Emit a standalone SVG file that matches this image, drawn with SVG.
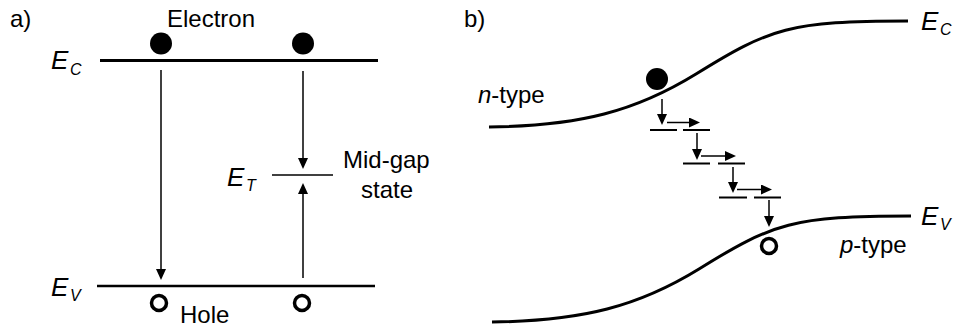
<svg xmlns="http://www.w3.org/2000/svg" width="954" height="331" viewBox="0 0 954 331">
<style>
text{font-family:"Liberation Sans",Arial,sans-serif;fill:#000}
.t{font-size:24px}
.e{font-size:26px;font-style:italic}
.s{font-size:16px;font-style:italic}
.band{stroke:#000;stroke-width:3;fill:none}
.lvl{stroke:#000;stroke-width:2;fill:none}
.arr{stroke:#000;stroke-width:1.5;fill:none;marker-end:url(#ah)}
.el{fill:#000}
.ho{fill:none;stroke:#000;stroke-width:3.5}
</style>
<defs>
<marker id="ah" viewBox="0 0 11 10" refX="6" refY="5" markerWidth="11" markerHeight="10" orient="auto" markerUnits="userSpaceOnUse">
<path d="M0,0 L11,5 L0,10 z" fill="#000"/>
</marker>
</defs>
<rect width="954" height="331" fill="#fff"/>

<!-- Panel a -->
<g id="label-a"><text class="t" x="10" y="27">a)</text></g>
<g id="a-ec">
<line class="band" x1="100" y1="60.5" x2="378" y2="60.5"/>
<text class="e" x="51" y="69">E</text><text class="s" x="70" y="75">C</text>
</g>
<g id="a-ev">
<line class="band" x1="97" y1="286" x2="375" y2="286" style="stroke-width:2.6"/>
<text class="e" x="51" y="296">E</text><text class="s" x="70" y="301">V</text>
</g>
<g id="a-et">
<line class="lvl" x1="272" y1="175" x2="333" y2="175" style="stroke-width:1.6"/>
<text class="e" x="227" y="186">E</text><text class="s" x="246" y="191">T</text>
</g>
<g id="a-electron1"><circle class="el" cx="161" cy="43.5" r="11"/></g>
<g id="a-electron2"><circle class="el" cx="303" cy="43.5" r="11"/></g>
<g id="a-electron-label"><text class="t" x="167" y="26.5">Electron</text></g>
<g id="a-hole1"><circle class="ho" cx="159" cy="303" r="7.5"/></g>
<g id="a-hole2"><circle class="ho" cx="302" cy="303" r="7.5"/></g>
<g id="a-hole-label"><text class="t" x="180" y="323">Hole</text></g>
<g id="a-midgap-label"><text class="t" x="343" y="168">Mid-gap</text><text class="t" x="361" y="198">state</text></g>

<!-- Panel b -->
<g id="label-b"><text class="t" x="464" y="27">b)</text></g>
<g id="b-ec">
<path class="band" d="M489,127 C580,126 636,111 696,74 C770,28 790,21 908,21"/>
<text class="e" x="921" y="30">E</text><text class="s" x="940" y="35">C</text>
</g>
<g id="b-ev">
<path class="band" d="M492,322 C583,321 639,306 699,269 C773,223 793,216 911,216"/>
<text class="e" x="921" y="225">E</text><text class="s" x="940" y="230">V</text>
</g>
<g id="b-ntype"><text class="t" x="478" y="103"><tspan font-style="italic">n</tspan>-type</text></g>
<g id="b-ptype"><text class="t" x="840" y="253"><tspan font-style="italic">p</tspan>-type</text></g>
<g id="b-electron"><circle class="el" cx="657" cy="79" r="11"/></g>
<g id="b-hole"><circle class="ho" cx="769" cy="246" r="7.5"/></g>
<g id="b-levels">
<line class="lvl" x1="650" y1="130" x2="677" y2="130"/>
<line class="lvl" x1="683" y1="130" x2="710" y2="130"/>
<line class="lvl" x1="683" y1="163.5" x2="710" y2="163.5"/>
<line class="lvl" x1="718" y1="163.5" x2="745" y2="163.5"/>
<line class="lvl" x1="719" y1="197.5" x2="747" y2="197.5"/>
<line class="lvl" x1="754" y1="197.5" x2="781" y2="197.5"/>
</g>

<g id="connectors">
<line class="arr" x1="161" y1="70" x2="161" y2="275"/>
<line class="arr" x1="303" y1="71" x2="303" y2="164"/>
<line class="arr" x1="303" y1="278" x2="303" y2="188"/>
<line class="arr" x1="662" y1="99" x2="662" y2="120"/>
<line class="arr" x1="667" y1="122.5" x2="695" y2="122.5"/>
<line class="arr" x1="697" y1="133" x2="697" y2="155"/>
<line class="arr" x1="701" y1="156" x2="731" y2="156"/>
<line class="arr" x1="733" y1="167" x2="733" y2="188"/>
<line class="arr" x1="737" y1="189.5" x2="767" y2="189.5"/>
<line class="arr" x1="769" y1="200" x2="769" y2="222"/>
</g>
</svg>
